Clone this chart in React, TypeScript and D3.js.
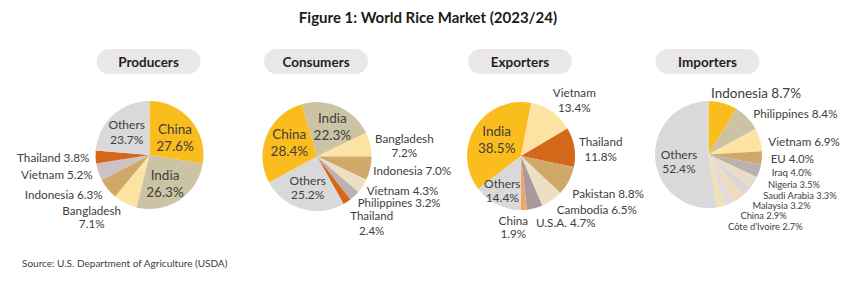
import React from "react";
import * as d3 from "d3";

// ---------- data ----------
const chartTitle = "Figure 1: World Rice Market (2023/24)";
const sourceText = "Source: U.S. Department of Agriculture (USDA)";
const panelTitles = ["Producers", "Consumers", "Exporters", "Importers"];

const producerNames = ["China", "India", "Bangladesh", "Indonesia", "Vietnam", "Thailand", "Others"];
const producerShares = [27.6, 26.3, 7.1, 6.3, 5.2, 3.8, 23.7];

const consumerNames = ["China", "India", "Bangladesh", "Indonesia", "Vietnam", "Philippines", "Thailand", "Others"];
const consumerShares = [28.4, 22.3, 7.2, 7.0, 4.3, 3.2, 2.4, 25.2];

const exporterNames = ["India", "Vietnam", "Thailand", "Pakistan", "Cambodia", "U.S.A.", "China", "Others"];
const exporterShares = [38.5, 13.4, 11.8, 8.8, 6.5, 4.7, 1.9, 14.4];

const importerNames = ["Indonesia", "Philippines", "Vietnam", "EU", "Iraq", "Nigeria", "Saudi Arabia", "Malaysia", "China", "Côte d’Ivoire", "Others"];
const importerShares = [8.7, 8.4, 6.9, 4.0, 4.0, 3.5, 3.3, 3.2, 2.9, 2.7, 52.4];

// ---------- styles / layout ----------
const FONT = "Lato, 'Open Sans', sans-serif";
const GOLD = "#FBBC1D", TAUPE = "#CBC3A4", LYEL = "#FDE3A3", TAN = "#D0A868",
  MAUVE = "#CDC2C3", ORANGE = "#D5671B", GRAY = "#D9D9D9", BEIGE = "#EDDFC4",
  MAUVE2 = "#BDB2B3", USA = "#A8999B", LORANGE = "#F2A464";

type LabelLayout = { dx: number; dy: number; anchor: string; size: number; lines: number; lh?: number };

const panels = [
  {
    names: producerNames, values: producerShares, cx: 149.5, cy: 155, r: 54, rot: 0,
    colors: [GOLD, TAUPE, LYEL, TAN, MAUVE, ORANGE, GRAY],
    layout: [
      { dx: 25.5, dy: -17.3, anchor: "middle", size: 13.5, lines: 2, lh: 16.7 },
      { dx: 15.5, dy: 28.3, anchor: "middle", size: 13.5, lines: 2, lh: 16.7 },
      { dx: -57.8, dy: 61.7, anchor: "middle", size: 11.7, lines: 2, lh: 13.4 },
      { dx: -46.8, dy: 39, anchor: "end", size: 11.7, lines: 1 },
      { dx: -56.8, dy: 19.3, anchor: "end", size: 11.7, lines: 1 },
      { dx: -60.2, dy: 1.7, anchor: "end", size: 11.7, lines: 1 },
      { dx: -22.8, dy: -23, anchor: "middle", size: 12, lines: 2, lh: 15 },
    ] as LabelLayout[],
  },
  {
    names: consumerNames, values: consumerShares, cx: 317, cy: 156.5, r: 54.5, rot: 241.6,
    colors: [GOLD, TAUPE, LYEL, TAN, BEIGE, MAUVE2, ORANGE, GRAY],
    layout: [
      { dx: -27.7, dy: -13.8, anchor: "middle", size: 13.5, lines: 2, lh: 16.7 },
      { dx: 15.3, dy: -29.8, anchor: "middle", size: 13.5, lines: 2, lh: 16.7 },
      { dx: 87.3, dy: -11.5, anchor: "middle", size: 11.7, lines: 2, lh: 14.6 },
      { dx: 56.3, dy: 13.5, anchor: "start", size: 11.7, lines: 1 },
      { dx: 49.7, dy: 33.5, anchor: "start", size: 11.7, lines: 1 },
      { dx: 40.7, dy: 45.6, anchor: "start", size: 11.5, lines: 1 },
      { dx: 54.7, dy: 66, anchor: "middle", size: 11.5, lines: 2, lh: 15 },
      { dx: -9.3, dy: 30.7, anchor: "middle", size: 12, lines: 2, lh: 14.3 },
    ] as LabelLayout[],
  },
  {
    names: exporterNames, values: exporterShares, cx: 521, cy: 156, r: 54, rot: 232.4,
    colors: [GOLD, LYEL, ORANGE, TAN, BEIGE, USA, LORANGE, GRAY],
    layout: [
      { dx: -24.3, dy: -16.7, anchor: "middle", size: 13.5, lines: 2, lh: 16.7 },
      { dx: 53.3, dy: -56.5, anchor: "middle", size: 11.7, lines: 2, lh: 14.4 },
      { dx: 79.7, dy: -7.8, anchor: "middle", size: 11.7, lines: 2, lh: 15 },
      { dx: 51.3, dy: 37.3, anchor: "start", size: 11.7, lines: 1 },
      { dx: 35.7, dy: 53, anchor: "start", size: 11.7, lines: 1 },
      { dx: 15, dy: 65.7, anchor: "start", size: 11.7, lines: 1 },
      { dx: -7.7, dy: 70.7, anchor: "middle", size: 11.7, lines: 2, lh: 13.4 },
      { dx: -18.7, dy: 34.3, anchor: "middle", size: 12, lines: 2, lh: 14 },
    ] as LabelLayout[],
  },
  {
    names: importerNames, values: importerShares, cx: 708.5, cy: 154.5, r: 53.5, rot: 0,
    colors: [GOLD, TAUPE, LYEL, TAN, "#BCB1B1", "#E6DCC8", "#DDD6D6", "#EBDDB9", "#E3DBDB", "#F0E0B5", GRAY],
    layout: [
      { dx: 2.5, dy: -61.2, anchor: "start", size: 13.5, lines: 1 },
      { dx: 44.8, dy: -41.8, anchor: "start", size: 11.7, lines: 1 },
      { dx: 59.8, dy: -13.8, anchor: "start", size: 11.7, lines: 1 },
      { dx: 62.2, dy: 3.8, anchor: "start", size: 11.5, lines: 1 },
      { dx: 63.2, dy: 18.2, anchor: "start", size: 9.6, lines: 1 },
      { dx: 111.5, dy: 30.3, anchor: "end", size: 9.3, lines: 1 },
      { dx: 128.2, dy: 40.7, anchor: "end", size: 9.3, lines: 1 },
      { dx: 102.2, dy: 50.8, anchor: "end", size: 9.3, lines: 1 },
      { dx: 78.2, dy: 61.2, anchor: "end", size: 9.3, lines: 1 },
      { dx: 94.2, dy: 71.8, anchor: "end", size: 9.3, lines: 1 },
      { dx: -29.5, dy: 6.8, anchor: "middle", size: 12, lines: 2, lh: 14 },
    ] as LabelLayout[],
  },
];

const W = 855, H = 282;
const fmt = d3.format(".1f");

function Pie({ p, title }: { p: (typeof panels)[number]; title: string }) {
  const rot = (p.rot * Math.PI) / 180;
  const pie = d3.pie<number>().sort(null).value((d) => d).startAngle(rot).endAngle(rot + 2 * Math.PI);
  const arcs = pie(p.values);
  const arc = d3.arc<d3.PieArcDatum<number>>().innerRadius(0).outerRadius(p.r);
  const pillW = 104, pillH = 25;
  return (
    <g>
      <rect x={p.cx - pillW / 2 - 1} y={49} width={pillW} height={pillH} rx={12.5} fill="#E9E7E7" />
      <text x={p.cx - 1} y={61.5} textAnchor="middle" dominantBaseline="central" fontFamily={FONT}
        fontWeight={700} fontSize={13.5} fill="#1f1f1f">{title}</text>
      <g transform={`translate(${p.cx},${p.cy})`}>
        {arcs.map((a, i) => (
          <path key={i} d={arc(a) || ""} fill={p.colors[i]} />
        ))}
        {arcs.map((a, i) => {
          const L = p.layout[i];
          const name = p.names[i];
          const val = fmt(p.values[i]) + "%";
          if (L.lines === 2) {
            const lh = L.lh || 15;
            return (
              <text key={"t" + i} textAnchor={L.anchor} fontFamily={FONT} fontSize={L.size} fill="#404040">
                <tspan x={L.dx} y={L.dy - lh / 2} dominantBaseline="central">{name}</tspan>
                <tspan x={L.dx} y={L.dy + lh / 2} dominantBaseline="central">{val}</tspan>
              </text>
            );
          }
          return (
            <text key={"t" + i} x={L.dx} y={L.dy} textAnchor={L.anchor} dominantBaseline="central"
              fontFamily={FONT} fontSize={L.size} fill="#404040">{`${name} ${val}`}</text>
          );
        })}
      </g>
    </g>
  );
}

export default function App() {
  return (
    <svg width={W} height={H} style={{ position: "absolute", left: 0, top: 0, background: "#fff" }}>
      <rect width={W} height={H} fill="#fff" />
      <text x={428} y={17} textAnchor="middle" dominantBaseline="central" fontFamily={FONT}
        fontWeight={700} fontSize={15} fill="#1a1a1a">{chartTitle}</text>
      {panels.map((p, i) => (
        <Pie key={i} p={p} title={panelTitles[i]} />
      ))}
      <text x={22} y={263} dominantBaseline="central" fontFamily={FONT} fontSize={10} fill="#404040">{sourceText}</text>
    </svg>
  );
}
